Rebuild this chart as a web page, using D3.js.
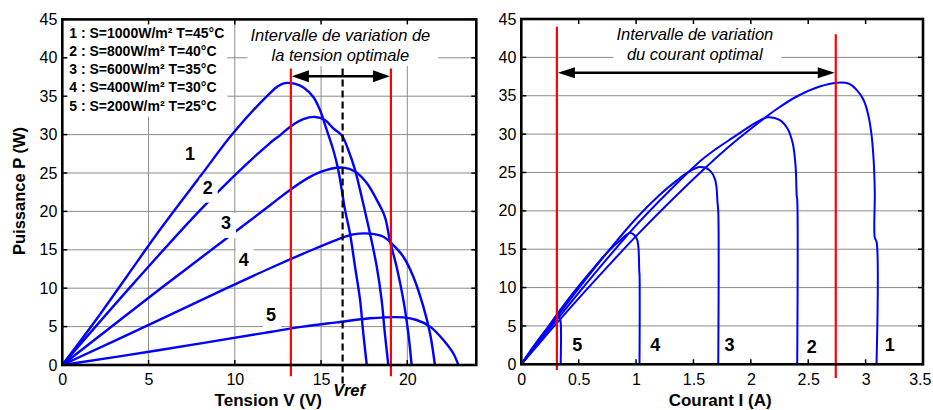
<!DOCTYPE html>
<html><head><meta charset="utf-8">
<script src="https://cdn.jsdelivr.net/npm/d3@7"></script>
<style>
body{margin:0;background:#fff}
text{font-family:Arial,"Liberation Sans",sans-serif}
</style>
</head><body>
<svg id="c" width="933" height="410"></svg>
<script>
// ---------- DATA ----------
// Left plot: P (W) versus V (V)
const pvCurve1 = [[0,0],[1.8,5.4],[3.73,11.5],[5.66,17.6],[7.98,24.5],[9.91,30.2],[12.04,35.4],[12.5,36.3],[12.9,36.7],[13.5,36.6],[14.0,36.1],[14.55,34.9],[14.94,33.2],[15.33,30.6],[15.71,28.0],[16.0,25.4],[16.2,22.8],[16.39,20.2],[16.68,17.1],[16.97,12.8],[17.26,8.5],[17.45,4.1],[17.65,0]];
const pvCurve2 = [[0,0],[4.12,10.6],[8.37,21.05],[12.04,28.9],[12.62,29.9],[13.2,31.0],[13.97,32.0],[14.65,32.3],[15.23,31.9],[15.71,30.8],[16.2,29.9],[16.58,28.0],[16.97,25.4],[17.26,22.8],[17.6,19.5],[17.84,17.1],[18.23,12.8],[18.51,8.5],[18.7,4.1],[18.9,0]];
const pvCurve3 = [[0,0],[2.77,4.85],[5.66,9.9],[9.53,16.5],[12.04,20.8],[13.2,22.8],[14.36,24.5],[15.33,25.4],[16.29,25.7],[16.97,25.2],[17.65,23.7],[18.23,21.5],[18.7,19.3],[19.0,16.1],[19.38,12.8],[19.77,8.5],[20.06,4.1],[20.25,0]];
const pvCurve4 = [[0,0],[5.66,5.9],[9.53,10.0],[12.04,12.6],[13.97,14.5],[15.91,16.3],[16.87,17.0],[17.84,17.1],[18.61,16.7],[19.19,15.6],[19.77,14.1],[20.35,11.5],[20.93,7.6],[21.32,4.1],[21.6,0]];
const pvCurve5 = [[0,0],[5.66,1.95],[12.04,4.3],[13.97,5.0],[15.91,5.55],[17.84,6.08],[19.77,6.2],[20.54,5.86],[21.32,5.0],[22.09,3.26],[22.67,1.5],[22.96,0]];

// Right plot: P (W) versus I (A)
const piCurve1 = [[0,0],[0.25,4.35],[0.5,8.6],[0.75,12.7],[1.0,16.7],[1.25,20.5],[1.56,25.0],[1.78,28.0],[2.0,30.7],[2.22,33.2],[2.40,34.9],[2.60,36.2],[2.75,36.7],[2.85,36.6],[2.92,35.8],[2.98,34.5],[3.02,32.7],[3.05,30.1],[3.07,26.6],[3.08,22.3],[3.08,16.5],[3.095,16.0],[3.095,0]];
const piCurve2 = [[0,0],[0.25,4.7],[0.5,9.3],[0.75,13.8],[1.0,18.1],[1.25,22.0],[1.56,26.5],[1.70,28.1],[1.85,29.6],[2.0,31.1],[2.08,31.8],[2.15,32.2],[2.25,31.85],[2.32,30.7],[2.365,28.8],[2.39,25.8],[2.40,21.9],[2.404,21.5],[2.404,0]];
const piCurve3 = [[0,0],[0.25,5.0],[0.5,9.9],[0.75,14.6],[1.0,19.0],[1.2,22.0],[1.35,23.9],[1.45,25.0],[1.557,25.7],[1.64,25.3],[1.69,24.0],[1.71,21.0],[1.716,20.0],[1.716,0]];
const piCurve4 = [[0,0],[0.2,4.2],[0.4,8.3],[0.6,12.0],[0.75,14.6],[0.85,16.0],[0.95,17.1],[1.005,16.4],[1.02,15.3],[1.028,12.1],[1.03,11.8],[1.03,0]];
const piCurve5 = [[0,0],[0.1,2.2],[0.2,4.2],[0.27,5.4],[0.32,6.3],[0.335,6.0],[0.343,5.5],[0.343,0]];

const curveNames = ["1","2","3","4","5"];
const legendLines = ["1 : S=1000W/m² T=45°C","2 : S=800W/m² T=40°C","3 : S=600W/m² T=35°C","4 : S=400W/m² T=30°C","5 : S=200W/m² T=25°C"];
const leftLabelPos = [[7.40,27.6],[8.43,23.1],[9.49,18.5],[10.52,13.8],[12.1,6.64]];
const rightLabelPos = [[3.21,2.6],[2.53,2.3],[1.815,2.6],[1.167,2.6],[0.488,2.6]];

const vTicks = [0,5,10,15,20];
const pTicks = [0,5,10,15,20,25,30,35,40,45];
const iTicks = [0,0.5,1,1.5,2,2.5,3,3.5];

const vInterval = [13.25, 19.05];
const vRef = 16.25;
const iInterval = [0.31, 2.74];
const leftTitle = ["Intervalle de variation de","la tension optimale"];
const rightTitle = ["Intervalle de variation","du courant optimal"];

// ---------- SCALES ----------
const svg = d3.select("#c");
svg.append("rect").attr("width",933).attr("height",410).attr("fill","#fff");

const xL = d3.scaleLinear([0,24],[62.3,476.3]);
const yL = d3.scaleLinear([0,45],[365,19.4]);
const xR = d3.scaleLinear([0,3.5],[521.3,923]);
const yR = d3.scaleLinear([0,45],[364.3,19]);

const gridColor = "#8c8c8c";
const blue = "#0000ff";
const red = "#ff0000";

// ---------- GRID ----------
const gL = svg.append("g");
gL.selectAll(".vg").data(vTicks.filter(d=>d>0)).join("line")
  .attr("x1",d=>xL(d)).attr("x2",d=>xL(d)).attr("y1",yL(0)).attr("y2",yL(45))
  .attr("stroke",gridColor).attr("stroke-width",1);
gL.selectAll(".hg").data(pTicks.filter(d=>d>0&&d<45)).join("line")
  .attr("x1",xL(0)).attr("x2",xL(24)).attr("y1",d=>yL(d)).attr("y2",d=>yL(d))
  .attr("stroke",gridColor).attr("stroke-width",1);
const gR = svg.append("g");
gR.selectAll("line").data(pTicks.filter(d=>d>0&&d<45)).join("line")
  .attr("x1",xR(0)).attr("x2",xR(3.5)).attr("y1",d=>yR(d)).attr("y2",d=>yR(d))
  .attr("stroke",gridColor).attr("stroke-width",1);

// ---------- LEGEND & TITLES (white backgrounds) ----------
function boxedText(parent, lines, x, y0, dy, anchor, font, pad){
  const g = parent.append("g");
  const bg = g.append("rect").attr("fill","#fff");
  const t = g.selectAll("text").data(lines).join("text")
    .attr("x",x).attr("y",(d,i)=>y0+i*dy).attr("text-anchor",anchor)
    .attr("style",font).text(d=>d);
  const tg = t.nodes().map(n=>n.getBBox());
  const x0 = d3.min(tg,b=>b.x), x1 = d3.max(tg,b=>b.x+b.width);
  const y1 = d3.min(tg,b=>b.y), y2 = d3.max(tg,b=>b.y+b.height);
  bg.attr("x",x0-pad[0]).attr("y",y1-pad[1]).attr("width",x1-x0+pad[0]+pad[2]).attr("height",y2-y1+pad[1]+pad[3]);
  return g;
}
boxedText(svg, legendLines, xL(0)+7, 37.5, 18.3, "start", "font-size:14px;font-weight:bold", [7,20,3,3]);
boxedText(svg, leftTitle, (xL(vInterval[0])+xL(vInterval[1]))/2-0.5, 40.5, 20.7, "middle", "font-size:16.5px;font-style:italic", [3,20,8,2]);
boxedText(svg, rightTitle, (xR(iInterval[0])+xR(iInterval[1]))/2-1.5, 39.5, 20, "middle", "font-size:16.5px;font-style:italic", [3,20,8,2]);

// ---------- CURVES ----------
const lineL = d3.line().x(d=>xL(d[0])).y(d=>yL(d[1])).curve(d3.curveCatmullRom.alpha(0.5));
const lineR = d3.line().x(d=>xR(d[0])).y(d=>yR(d[1])).curve(d3.curveCatmullRom.alpha(0.5));
const pvSeries = [pvCurve1,pvCurve2,pvCurve3,pvCurve4,pvCurve5];
const piSeries = [piCurve1,piCurve2,piCurve3,piCurve4,piCurve5];
svg.append("g").selectAll("path").data(pvSeries).join("path")
  .attr("d",lineL).attr("fill","none").attr("stroke",blue).attr("stroke-width",2.4).attr("stroke-linejoin","round");
svg.append("g").selectAll("path").data(piSeries).join("path")
  .attr("d",lineR).attr("fill","none").attr("stroke",blue).attr("stroke-width",2).attr("stroke-linejoin","round");

// ---------- CURVE NUMBER LABELS ----------
const labL = svg.append("g").selectAll("g").data(leftLabelPos).join("g");
labL.append("rect").attr("x",d=>xL(d[0])-8).attr("y",d=>yL(d[1])-10).attr("width",18).attr("height",25).attr("fill","#fff");
labL.append("text").attr("x",d=>xL(d[0])).attr("y",d=>yL(d[1])+6.5).attr("text-anchor","middle")
  .attr("style","font-size:18px;font-weight:bold").text((d,i)=>curveNames[i]);
svg.append("g").selectAll("text").data(rightLabelPos).join("text")
  .attr("x",d=>xR(d[0])).attr("y",d=>yR(d[1])+6.5).attr("text-anchor","middle")
  .attr("style","font-size:18px;font-weight:bold").text((d,i)=>curveNames[i]);

// ---------- RED LIMIT LINES, VREF, ARROWS ----------
svg.append("g").selectAll("line").data(vInterval).join("line")
  .attr("x1",d=>xL(d)).attr("x2",d=>xL(d)).attr("y1",yL(38.6)).attr("y2",yL(-1.45))
  .attr("stroke",red).attr("stroke-width",2.2);
svg.append("line").attr("x1",xR(iInterval[0])).attr("x2",xR(iInterval[0])).attr("y1",yR(44.0)).attr("y2",yR(-0.75))
  .attr("stroke",red).attr("stroke-width",2.2);
svg.append("line").attr("x1",xR(iInterval[1])).attr("x2",xR(iInterval[1])).attr("y1",yR(43.0)).attr("y2",yR(-1.8))
  .attr("stroke",red).attr("stroke-width",2.2);

svg.append("line").attr("x1",xL(vRef)).attr("x2",xL(vRef)).attr("y1",yL(38.6)).attr("y2",yL(-2.4))
  .attr("stroke","#000").attr("stroke-width",2.2).attr("stroke-dasharray","7,4");
svg.append("text").attr("x",xL(vRef)+6.5).attr("y",396).attr("text-anchor","middle")
  .attr("style","font-size:16.5px;font-weight:bold;font-style:italic").text("Vref");

function dblArrow(x1,x2,y,len,half){
  const g = svg.append("g");
  g.append("line").attr("x1",x1+len-2).attr("x2",x2-len+2).attr("y1",y).attr("y2",y)
    .attr("stroke","#000").attr("stroke-width",2.5);
  g.append("path").attr("d",`M${x1},${y}L${x1+len},${y-half}L${x1+len},${y+half}Z`).attr("fill","#000");
  g.append("path").attr("d",`M${x2},${y}L${x2-len},${y-half}L${x2-len},${y+half}Z`).attr("fill","#000");
}
dblArrow(xL(vInterval[0])+1, xL(vInterval[1])-1, yL(37.6), 17, 6);
dblArrow(xR(iInterval[0])+1, xR(iInterval[1])-1, yR(38.0), 17, 5.5);

// ---------- AXES & FRAMES ----------
function frame(x, y, xt, yt, xfmt){
  const g = svg.append("g");
  const [x0,x1] = x.range(), [y0,y1] = y.range();
  g.selectAll(".tb").data(xt).join("line").attr("x1",d=>x(d)).attr("x2",d=>x(d)).attr("y1",y0).attr("y2",y0-5).attr("stroke","#000").attr("stroke-width",1.5);
  g.selectAll(".tt").data(xt).join("line").attr("x1",d=>x(d)).attr("x2",d=>x(d)).attr("y1",y1).attr("y2",y1+5).attr("stroke","#000").attr("stroke-width",1.5);
  g.selectAll(".tl").data(yt).join("line").attr("x1",x0).attr("x2",x0+5).attr("y1",d=>y(d)).attr("y2",d=>y(d)).attr("stroke","#000").attr("stroke-width",1.5);
  g.selectAll(".tr").data(yt).join("line").attr("x1",x1).attr("x2",x1-5).attr("y1",d=>y(d)).attr("y2",d=>y(d)).attr("stroke","#000").attr("stroke-width",1.5);
  g.append("rect").attr("x",x0).attr("y",y1).attr("width",x1-x0).attr("height",y0-y1)
    .attr("fill","none").attr("stroke","#000").attr("stroke-width",2.6);
  const ax = g.append("g").attr("transform",`translate(0,${y0})`)
    .call(d3.axisBottom(x).tickValues(xt).tickFormat(xfmt).tickSize(0).tickPadding(9));
  const ay = g.append("g").attr("transform",`translate(${x0},0)`)
    .call(d3.axisLeft(y).tickValues(yt).tickFormat(d3.format("d")).tickSize(0).tickPadding(5));
  [ax,ay].forEach(a=>{a.select(".domain").remove();a.selectAll("text").attr("fill","#000").attr("font-size",16).attr("font-family","Arial, 'Liberation Sans', sans-serif");});
  const lastTick = ax.selectAll(".tick text").filter((d,i,n)=>i===n.length-1);
  const bb = lastTick.node().getBBox();
  const tr = x(xt[xt.length-1]);
  if (tr + bb.x + bb.width > 931) lastTick.attr("dx", (931 - (tr + bb.x + bb.width)));
}
frame(xL, yL, vTicks, pTicks, d3.format("d"));
frame(xR, yR, iTicks, pTicks, d=>String(d));

// ---------- AXIS TITLES ----------
svg.append("text").attr("transform","translate(25,191) rotate(-90)").attr("text-anchor","middle")
  .attr("style","font-size:16.5px;font-weight:bold").text("Puissance P (W)");
svg.append("text").attr("x",(xL(0)+xL(24))/2-1).attr("y",406).attr("text-anchor","middle")
  .attr("style","font-size:17px;font-weight:bold").text("Tension V (V)");
svg.append("text").attr("x",(xR(0)+xR(3.5))/2-2).attr("y",406).attr("text-anchor","middle")
  .attr("style","font-size:17px;font-weight:bold").text("Courant I (A)");
</script>
</body></html>
